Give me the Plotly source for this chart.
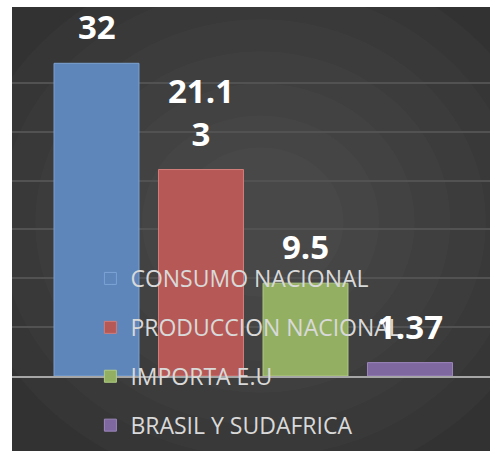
import plotly.graph_objects as go

series_names = ["CONSUMO NACIONAL", "PRODUCCION NACIONAL", "IMPORTA E.U", "BRASIL Y SUDAFRICA"]
values = [32, 21.13, 9.5, 1.37]
value_labels = ["32", "21.1<br>3", "9.5", "1.37"]
colors = ["#5f86bb", "#b65956", "#93b062", "#7f67a0"]
edge_colors = ["#7da3d3", "#d27d7a", "#b0cb84", "#9d86bd"]

fig = go.Figure()
for name, v, c, ec in zip(series_names, values, colors, edge_colors):
    fig.add_trace(go.Bar(
        x=[name], y=[v], name=name, width=0.813,
        marker=dict(color=c, line=dict(width=1, color=ec)),
        legendgroup=name,
    ))

annotations = [dict(x=name, y=v, xref="x", yref="y", text=lab, showarrow=False,
                    yanchor="bottom", yshift=12,
                    font=dict(family="Open Sans", size=33, color="white", weight="bold"))
               for name, v, lab in zip(series_names, values, value_labels)]

PW, PH, ML, MT, MB = 478, 342, 12, 34, 75
bg_shapes = [dict(type="rect", xref="paper", yref="paper", x0=0, x1=1,
                  y0=-MB / PH, y1=1 + 27 / PH, fillcolor="#323232",
                  line=dict(width=0), layer="below")]
# soft central lighting
for i in range(7):
    s = 1 - i * 0.12
    cx, cy = 0.52, 0.45
    bg_shapes.append(dict(type="circle", xref="paper", yref="paper",
                          x0=cx - 0.62 * s, x1=cx + 0.62 * s,
                          y0=cy - 0.78 * s, y1=cy + 0.78 * s,
                          fillcolor="rgba(255,255,255,0.018)", line=dict(width=0),
                          layer="below"))

fig.update_layout(
    width=490, height=451,
    margin=dict(l=ML, r=0, t=MT, b=MB, autoexpand=False),
    paper_bgcolor="white", plot_bgcolor="rgba(0,0,0,0)",
    barmode="overlay",
    font=dict(family="Open Sans"),
    xaxis=dict(type="category", range=[-0.8086, 3.7656],
               showticklabels=False, showgrid=False, zeroline=False,
               showline=True, linecolor="#a6a6a6", linewidth=2),
    yaxis=dict(range=[0, 35], dtick=5, showticklabels=False, showgrid=True,
               gridcolor="#525252", gridwidth=1.5, zeroline=False),
    legend=dict(x=0.164, y=1 - 257 / 451, xanchor="left", yanchor="top",
                yref="container",
                font=dict(size=23, color="#d9d9d9"), bgcolor="rgba(0,0,0,0)",
                traceorder="grouped", tracegroupgap=16),
    shapes=bg_shapes,
    annotations=annotations,
)

fig.write_html("out.html", config={"displayModeBar": False},
               post_script="document.body.style.margin='0';document.body.style.overflow='hidden';")
